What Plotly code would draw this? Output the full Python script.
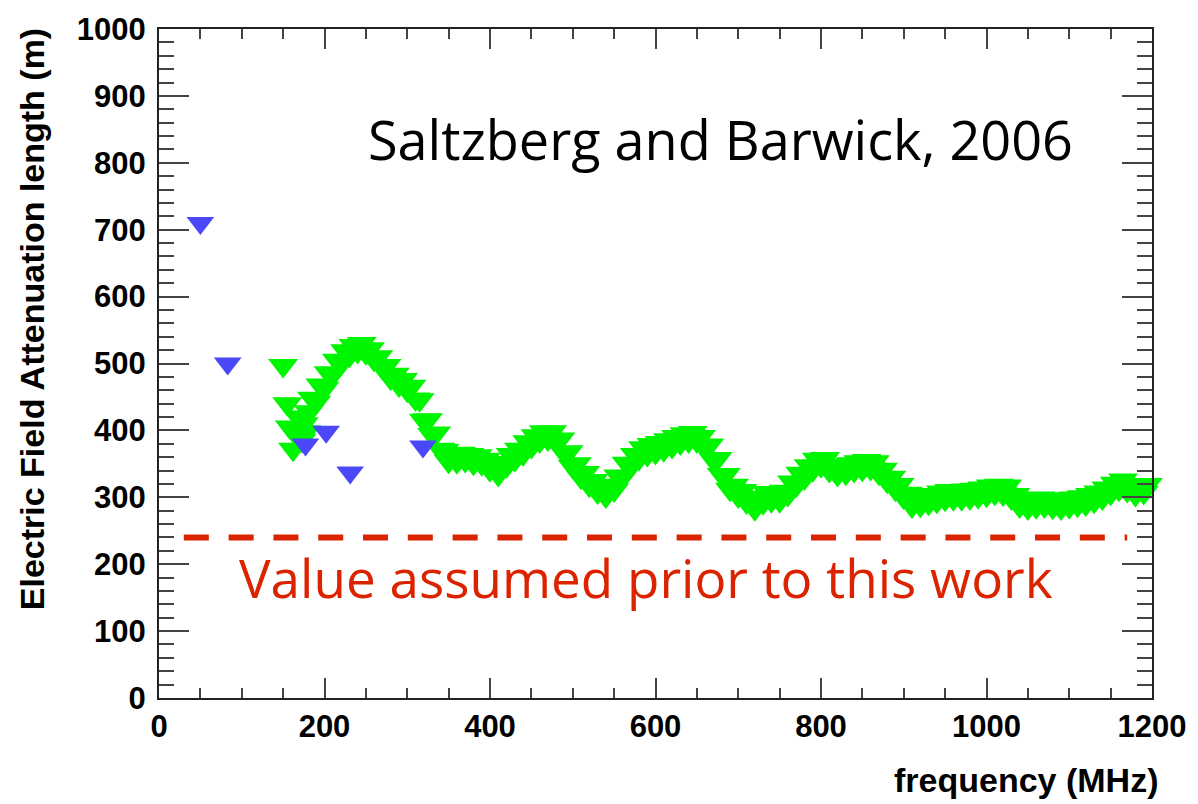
import numpy as np
import plotly.graph_objects as go

# Earlier measurements (blue)
early_freq = [50, 83, 177, 202, 231, 319]
early_len = [710, 500, 379, 398, 337, 376]

# Saltzberg and Barwick 2006 measurement (green): low-frequency cluster, then a 5 MHz grid
sb_freq_start = [150, 155, 158, 162, 165, 168, 172, 175, 178, 181]
sb_len_start = [497, 440, 405, 372, 395, 420, 385, 410, 398, 428]
sb_freq_grid = list(range(185, 1200, 5))
sb_len_grid = [
    448, 442, 468, 463, 486, 484, 505, 500, 519, 512, 527, 518, 530, 516, 522, 506,
    510, 494, 497, 478, 484, 468, 476, 460, 466, 447, 446, 415, 416, 394, 396, 372,
    370, 354, 364, 353, 366, 355, 364, 351, 362, 350, 357, 341, 349, 334, 352, 347,
    364, 356, 372, 365, 383, 376, 392, 384, 398, 387, 398, 383, 387, 366, 368, 346,
    350, 330, 337, 318, 325, 308, 317, 302, 318, 311, 332, 330, 351, 346, 364, 358,
    374, 364, 379, 367, 382, 371, 386, 376, 391, 381, 395, 384, 397, 384, 391, 374,
    378, 356, 358, 334, 334, 312, 318, 302, 310, 293, 300, 283, 299, 292, 307, 295,
    307, 295, 309, 304, 323, 318, 336, 329, 347, 341, 357, 347, 358, 340, 347, 334,
    346, 336, 350, 340, 353, 342, 355, 343, 353, 336, 342, 324, 330, 312, 319, 300,
    306, 287, 298, 288, 302, 291, 304, 294, 308, 297, 310, 298, 310, 298, 311, 299,
    312, 301, 314, 303, 317, 306, 318, 305, 317, 299, 304, 287, 296, 284, 297, 286,
    299, 287, 298, 285, 296, 284, 297, 286, 299, 288, 301, 290, 304, 294, 308, 299,
    314, 306, 321, 312, 326, 310, 318, 304, 317, 307, 319,
]
sb_freq = sb_freq_start + sb_freq_grid
sb_len = sb_len_start + sb_len_grid

# Previously assumed attenuation length
assumed_len = 240
assumed_span = [30, 1170]

x_ticks = [0, 200, 400, 600, 800, 1000, 1200]
y_ticks = [0, 100, 200, 300, 400, 500, 600, 700, 800, 900, 1000]

RED = "#dc2300"

fig = go.Figure()

fig.add_trace(go.Scatter(
    x=assumed_span, y=[assumed_len, assumed_len], mode="lines",
    line=dict(color=RED, width=6, dash="25px,19.8px"),
    hoverinfo="skip", showlegend=False,
))
fig.add_trace(go.Scatter(
    x=sb_freq, y=sb_len, mode="markers",
    marker=dict(symbol="triangle-down", size=26, color="#00f500",
                line=dict(width=0)),
    cliponaxis=False, showlegend=False,
))
fig.add_trace(go.Scatter(
    x=early_freq, y=early_len, mode="markers",
    marker=dict(symbol="triangle-down", size=24, color="#4b48fa",
                line=dict(width=0)),
    cliponaxis=False, showlegend=False,
))

tick_font = dict(family="Liberation Sans, Arial, sans-serif", size=31,
                 color="black", weight="bold")

fig.update_xaxes(
    range=[0, 1200], tickvals=x_ticks, ticktext=[str(v) for v in x_ticks],
    ticks="inside", ticklen=20, tickwidth=2, tickcolor="#444",
    minor=dict(ticks="inside", ticklen=10, dtick=50, tickwidth=2, tickcolor="#444",
               showgrid=False),
    showline=True, linewidth=2, linecolor="#222", mirror="allticks",
    showgrid=False, zeroline=False, tickfont=tick_font,
)
fig.update_yaxes(
    range=[0, 1000], tickvals=y_ticks, ticktext=[str(v) for v in y_ticks],
    ticks="inside", ticklen=30, tickwidth=2, tickcolor="#444",
    minor=dict(ticks="inside", ticklen=15, dtick=20, tickwidth=2, tickcolor="#444",
               showgrid=False),
    showline=True, linewidth=2, linecolor="#222", mirror="allticks",
    showgrid=False, zeroline=False, tickfont=tick_font, ticklabelstandoff=5,
)

title_font = dict(family="Liberation Sans, Arial, sans-serif", size=34,
                  color="black", weight="bold")

fig.add_annotation(
    text="Electric Field Attenuation length (m)", textangle=-90,
    xref="paper", yref="paper", x=-0.128, y=0.566,
    xanchor="center", yanchor="middle", showarrow=False, font=title_font,
)
fig.add_annotation(
    text="frequency (MHz)", xref="paper", yref="paper", x=1.008, y=-0.122,
    xanchor="right", yanchor="middle", showarrow=False, font=title_font,
)
fig.add_annotation(
    text="Saltzberg and Barwick, 2006", x=678, y=836,
    xanchor="center", yanchor="middle", showarrow=False,
    font=dict(family="Open Sans, sans-serif", size=54, color="black"),
)
fig.add_annotation(
    text="Value assumed prior to this work", x=589, y=180,
    xanchor="center", yanchor="middle", showarrow=False,
    font=dict(family="Open Sans, sans-serif", size=53, color=RED),
)

fig.update_layout(
    width=1198, height=804,
    margin=dict(l=159, r=39, t=18, b=106),
    paper_bgcolor="white", plot_bgcolor="white",
    showlegend=False,
)

fig.write_html("out.html")
